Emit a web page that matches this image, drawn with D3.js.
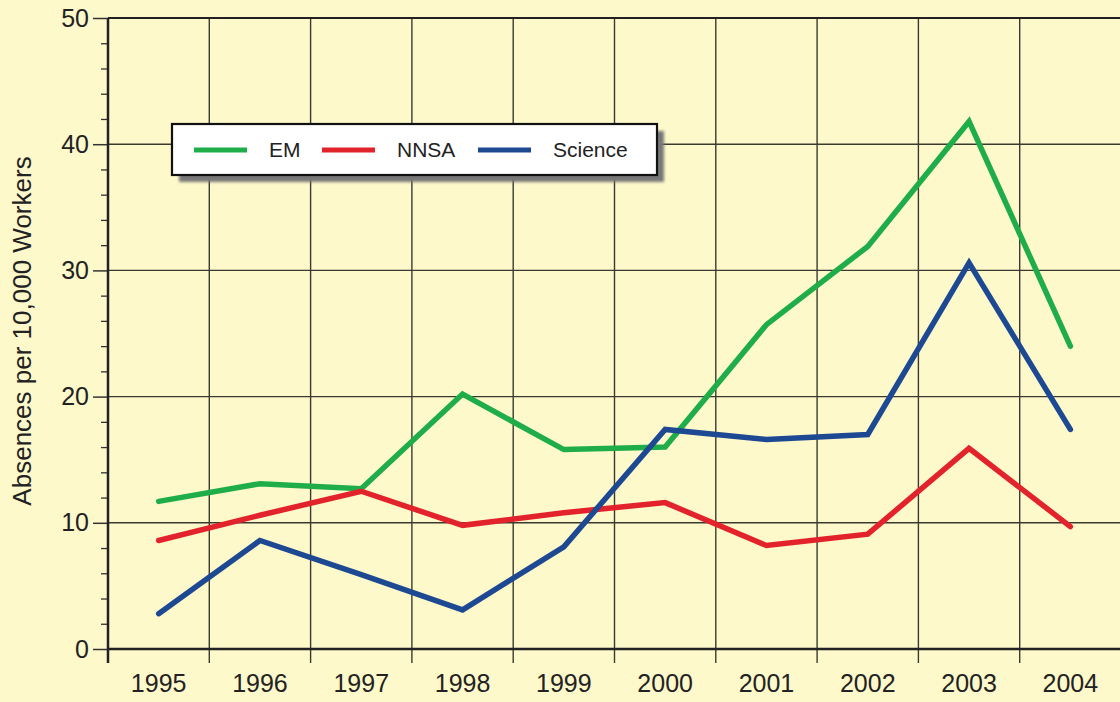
<!DOCTYPE html>
<html>
<head>
<meta charset="utf-8">
<script src="https://cdn.jsdelivr.net/npm/d3@7"></script>
<style>
  body { margin: 0; background: #fef9cb; }
  svg { display: block; font-family: "Liberation Sans", Arial, sans-serif; }
</style>
</head>
<body>
<svg id="chart"></svg>
<script>
'use strict';

// data
var years = ['1995', '1996', '1997', '1998', '1999', '2000', '2001', '2002', '2003', '2004'];
var emValues = [11.7, 13.1, 12.7, 20.2, 15.8, 16.0, 25.7, 31.9, 41.8, 24.0];
var nnsaValues = [8.6, 10.6, 12.5, 9.8, 10.8, 11.6, 8.2, 9.1, 15.9, 9.7];
var scienceValues = [2.8, 8.6, 5.9, 3.1, 8.1, 17.4, 16.6, 17.0, 30.6, 17.4];
var seriesNames = ['EM', 'NNSA', 'Science'];
var seriesColors = ['#1fad4a', '#e3232b', '#1d4892'];
var yMajorTicks = [0, 10, 20, 30, 40, 50];

var canvasWidth = 1120;
var canvasHeight = 702;
var margin = { top: 18, right: -1, bottom: 53, left: 108 };
var width = canvasWidth - margin.left - margin.right;
var height = canvasHeight - margin.top - margin.bottom;

var svg = d3.select('#chart')
  .attr('width', canvasWidth)
  .attr('height', canvasHeight);

svg.append('rect')
  .attr('width', canvasWidth)
  .attr('height', canvasHeight)
  .attr('fill', '#fef9cb');

var g = svg.append('g')
  .attr('transform', 'translate(' + margin.left + ',' + margin.top + ')');

var xScale = d3.scaleBand().domain(years).range([0, width]).padding(0);
var yScale = d3.scaleLinear().domain([0, 50]).range([height, 0]);

// horizontal grid lines
g.append('g')
  .selectAll('line')
  .data(yMajorTicks.filter(function(d) { return d > 0 && d < 50; }))
  .enter().append('line')
  .attr('x1', 0).attr('x2', width)
  .attr('y1', d => yScale(d)).attr('y2', d => yScale(d))
  .attr('stroke', '#3a3a30').attr('stroke-width', 1.4);

// vertical grid lines at year boundaries (also ticks below the axis)
g.append('g')
  .selectAll('line')
  .data(years.slice(1))
  .enter().append('line')
  .attr('x1', d => xScale(d)).attr('x2', d => xScale(d))
  .attr('y1', 0).attr('y2', height + 14)
  .attr('stroke', '#3a3a30').attr('stroke-width', 1.4);

// top line
g.append('line')
  .attr('x1', 0).attr('x2', width)
  .attr('y1', yScale(50)).attr('y2', yScale(50))
  .attr('stroke', '#222').attr('stroke-width', 2.2);

// y axis: minor ticks every 2, labels every 10
var yMinor = d3.range(0, 51, 2).filter(function(d) { return d % 10 !== 0; });
var yAxisMinor = g.append('g')
  .call(d3.axisLeft(yScale).tickValues(yMinor).tickSize(7).tickFormat(''));
yAxisMinor.select('.domain').remove();
yAxisMinor.selectAll('line').attr('stroke', '#333').attr('stroke-width', 1.3);

var yAxis = g.append('g')
  .call(d3.axisLeft(yScale).tickValues(yMajorTicks).tickSize(15).tickPadding(4));
yAxis.select('.domain').remove();
yAxis.selectAll('line').attr('stroke', '#333').attr('stroke-width', 1.5);
yAxis.selectAll('text')
  .attr('font-size', 25)
  .attr('font-family', '"Liberation Sans", Arial, sans-serif')
  .attr('fill', '#222');

// x axis labels
g.append('g')
  .selectAll('text')
  .data(years)
  .enter().append('text')
  .attr('x', d => xScale(d) + xScale.bandwidth() / 2)
  .attr('y', height + 43)
  .attr('text-anchor', 'middle')
  .attr('font-size', 25)
  .attr('fill', '#222')
  .text(d => d);

// axis lines
g.append('line')
  .attr('x1', 0).attr('x2', width)
  .attr('y1', height).attr('y2', height)
  .attr('stroke', '#222').attr('stroke-width', 2.5);
g.append('line')
  .attr('x1', 0).attr('x2', 0)
  .attr('y1', 0).attr('y2', height + 14)
  .attr('stroke', '#222').attr('stroke-width', 2.5);

// y title
svg.append('text')
  .attr('transform', 'translate(31,331) rotate(-90)')
  .attr('text-anchor', 'middle')
  .attr('font-size', 26)
  .attr('fill', '#222')
  .text('Absences per 10,000 Workers');

// lines
var allValues = [emValues, nnsaValues, scienceValues];
var line = d3.line()
  .x(function(d, i) { return xScale(years[i]) + xScale.bandwidth() / 2; })
  .y(function(d) { return yScale(d); });

g.selectAll('path.series')
  .data(allValues)
  .enter().append('path')
  .attr('class', 'series')
  .attr('d', line)
  .attr('fill', 'none')
  .attr('stroke', (d, i) => seriesColors[i])
  .attr('stroke-width', 5.5)
  .attr('stroke-linecap', 'round')
  .attr('stroke-linejoin', 'miter');

// legend
var defs = svg.append('defs');
defs.append('filter').attr('id', 'blur')
  .append('feGaussianBlur').attr('stdDeviation', 1.5);

var legend = svg.append('g').attr('transform', 'translate(172,124)');
legend.append('rect')
  .attr('x', 7).attr('y', 7)
  .attr('width', 485).attr('height', 51)
  .attr('fill', '#777')
  .attr('filter', 'url(#blur)');
legend.append('rect')
  .attr('width', 485).attr('height', 51)
  .attr('fill', '#fff')
  .attr('stroke', '#111')
  .attr('stroke-width', 2.2);

var legendLineX = [22, 150, 306];
var legendTextX = [97, 225, 381];
seriesNames.forEach(function(name, i) {
  legend.append('line')
    .attr('x1', legendLineX[i]).attr('x2', legendLineX[i] + 53)
    .attr('y1', 26).attr('y2', 26)
    .attr('stroke', seriesColors[i])
    .attr('stroke-width', 5);
  legend.append('text')
    .attr('x', legendTextX[i])
    .attr('y', 33)
    .attr('font-size', 21)
    .attr('fill', '#222')
    .text(name);
});
</script>
</body>
</html>
